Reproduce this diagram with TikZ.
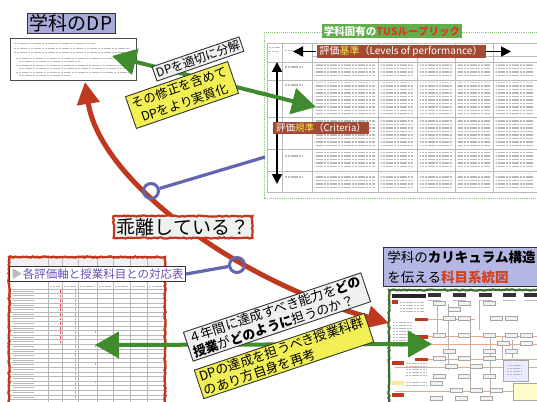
\documentclass[tikz,border=0pt]{standalone}
\usepackage{fontspec}
\setmainfont{Noto Sans CJK JP}
\usetikzlibrary{arrows.meta,decorations.pathmorphing,calc}
\definecolor{dpblue}{HTML}{A8AADA}
\definecolor{cblue}{HTML}{B4B6E4}
\definecolor{redc}{HTML}{C0391F}
\definecolor{brownc}{HTML}{A24A33}
\definecolor{titlegreen}{HTML}{62AE4F}
\definecolor{arrgreen}{HTML}{3F8B2E}
\definecolor{darkgreen}{HTML}{3E6B2F}
\definecolor{rubgreen}{HTML}{8CC87A}
\definecolor{lineblue}{HTML}{6266B0}
\definecolor{yel}{HTML}{F2EF55}
\definecolor{purp}{HTML}{6A4DB5}
\definecolor{subjred}{HTML}{D2401F}
\definecolor{tusred}{HTML}{E53420}
\definecolor{keyyel}{HTML}{F5E84A}
\definecolor{lbgray}{HTML}{F0F0F0}
\definecolor{orangel}{HTML}{F2A47E}
\begin{document}
\begin{tikzpicture}[x=1pt,y=-1pt,
  lbl/.style={draw=black!80, line width=0.9pt, inner sep=2pt},
  wlbl/.style={lbl, fill=lbgray},
  ylbl/.style={lbl, fill=yel},
  txt/.style={gray!55, line width=1.1pt, dash pattern=on 2.2pt off 0.6pt},
  gridl/.style={gray!55, line width=0.5pt},
  garrow/.style={arrgreen, line width=4pt, {Triangle[width=26pt,length=24pt]}-{Triangle[width=26pt,length=24pt]}},
  redarrow/.style={redc, line width=5pt, {Triangle[width=22pt,length=22pt]}-{Triangle[width=22pt,length=22pt]}},
  blarrow/.style={black, line width=1.8pt, -{Triangle[width=10pt,length=10pt]}},
  sketch/.style={decorate, decoration={random steps, segment length=2pt, amplitude=0.6pt}},
  bline/.style={lineblue, line width=3.2pt},
  ring/.style={circle, draw=lineblue, line width=3pt, minimum size=15pt, inner sep=0pt},
]
\useasboundingbox (0,0) rectangle (537,401);
\fill[white] (0,0) rectangle (537,401);

% ---------- DP document thumbnail ----------
\node[draw=black!70, line width=0.9pt, fill=white, minimum width=126pt, minimum height=42pt, anchor=north west, inner sep=0pt] (dpdoc) at (10,38) {};
\foreach \yy/\xa/\xe in {43/14/95, 48.5/14/130, 52/14/130, 58/16/130, 61.5/19/82, 65/16/130, 68.5/19/130, 72/16/130, 75.5/19/70}
  \draw[txt, line width=0.9pt] (\xa,\yy) -- (\xe,\yy);

% ---------- Rubric thumbnail ----------
\draw[rubgreen, line width=0.9pt, densely dotted] (264,32) rectangle (545,198);
\fill[white] (267,43) rectangle (537,192);
\foreach \xx in {267,282,312,378,417,455,493} \draw[gridl] (\xx,43) -- (\xx,192);
\foreach \yy in {43,62,80,117,149,171,192} \draw[gridl] (267,\yy) -- (537,\yy);
\draw[gridl] (312,56) -- (537,56);
\begin{scope}
\clip \foreach \xa/\xb in {312/378,378/417,417/455,455/493,493/537}{
        \foreach \ya/\yb in {62/80,80/117,117/149,149/171,171/192}{
          (\xa+2.5,\ya+2.5) rectangle (\xb-3,\yb-3) } };
\foreach \yy in {65,68.5,...,192} \draw[txt] (282,\yy) -- (537,\yy);
\end{scope}
\foreach \yy in {67,85,124,156,177} \draw[txt] (285,\yy) -- (302,\yy);
\draw[txt, line width=0.8pt] (269,47) -- (280,47) (269,51) -- (278,51);
\draw[txt, line width=0.8pt] (285,50) -- (293,50);

\node[fill=titlegreen, text=white, font=\bfseries\fontsize{10.5}{12}\selectfont, inner sep=1.5pt] (tustitle) at (392,31) {学科固有の\textcolor{tusred}{TUSルーブリック}};

\coordinate (vtop) at (277,62);
\coordinate (vbot) at (277,184);
\draw[black, line width=1.8pt, {Triangle[width=10pt,length=10pt]}-{Triangle[width=10pt,length=10pt]}] (vtop) -- (vbot);

\node[fill=brownc, text=white, font=\fontsize{10}{12}\selectfont, inner xsep=3pt, inner ysep=1.5pt] (levels) at (401,51.5) {評価\textcolor{keyyel}{基準}（Levels of performance）};
\coordinate (lvlL) at (293,51.5);
\coordinate (lvlR) at (511,51.5);
\draw[blarrow] (levels.west) -- (lvlL);
\draw[blarrow] (levels.east) -- (lvlR);

\node[fill=brownc, text=white, font=\fontsize{9.5}{12}\selectfont, inner xsep=3pt, inner ysep=1.5pt] (crit) at (321,128) {評価\textcolor{keyyel}{規準}（Criteria）};

% ---------- Correspondence table thumbnail ----------
\fill[white] (9,257) rectangle (165,405);
\fill[gray!12] (10,258) rectangle (165,266);
\foreach \xa/\xb in {50/60, 64/76, 80/95, 99/111, 115/128, 132/145, 149/162} \draw[txt, line width=0.6pt] (\xa,286) -- (\xb,286);
\foreach \yy in {289,293.6,...,402} \draw[gridl, line width=0.4pt] (10,\yy) -- (165,\yy);
\foreach \xx in {48,62,78,97,113,130,147} \draw[gridl, line width=0.4pt] (\xx,258) -- (\xx,402);
\foreach \yy in {291.3,295.9,...,400} \draw[txt, line width=1pt, dash pattern=on 1.6pt off 0.4pt] (13,\yy) -- (34,\yy);
\foreach \yy in {291.3,295.9,...,345} \draw[red!70, line width=0.5pt] (60,\yy-1.4) -- (60,\yy+1.4);
\foreach \yy in {291.3,295.9,...,400} \draw[gray!60, line width=0.5pt] (75,\yy-1.3) -- (75,\yy+1.3);
\foreach \yy in {331.5,345.3,363.7,382.1} \draw[gray!60, line width=0.5pt] (95,\yy-1.3) -- (95,\yy+1.3);
\draw[redc, line width=2.4pt, sketch] (9,257) rectangle (165,406);

% ---------- Subject graph thumbnail ----------
\fill[white] (389,290) rectangle (541,405);
\fill[black!85] (392,294) rectangle (426,298);
\foreach \xa in {428,453,479,503,524} \fill[black!80] (\xa,293) rectangle ++(13,4);
\foreach \xa in {428,453,479,503,524} \draw[gray!50, line width=0.5pt] (\xa,300) -- ++(13,0);
\foreach \yy in {302,305,308,311} \draw[txt, line width=0.8pt] (400,\yy) -- (424,\yy);
\fill[redc] (392,300) rectangle (398,304);
\foreach \yy in {322,325,...,347} \draw[txt, line width=0.8pt] (393,\yy) -- (412,\yy);
\foreach \yy in {363,366,369,372,375} \draw[txt, line width=0.8pt] (406,\yy) -- (427,\yy);
\fill[redc] (392,361) rectangle (404,365);
\fill[yellow!60!orange!40] (392,381) rectangle (404,385);
\foreach \yy in {382,385} \draw[txt, line width=0.8pt] (406,\yy) -- (427,\yy);
\fill[redc] (392,393) rectangle (404,397);
\foreach \ya/\xa/\xb in {319/428/475, 336.5/428/537, 344/430/537, 359/428/537, 367/395/537, 391/395/537}
  \draw[orangel, line width=1pt] (\xa,\ya) -- (\xb,\ya);
\foreach \yy in {317.5,335,357.5} \fill[redc] (415,\yy) rectangle ++(13,3.5);
\draw[gray!60, line width=0.5pt] (448,304) -- (448,370) (470,320) -- (470,390) (490,335) -- (490,395)
  (502,336) -- (502,360) (479,300) -- (479,330) (512,340) -- (512,358) (437,305) -- (437,334);
\foreach \xa/\ya in {433/301, 448/307, 458/301, 483/301, 443/316, 458/316, 490/316, 505/316,
   433/333, 458/333, 483/333, 505/333, 520/333, 497/341, 520/341, 443/349, 483/349, 505/349,
   433/356, 458/356, 483/356, 445/364, 470/364, 433/374, 458/374, 483/374, 430/381,
   450/388, 470/388, 490/388, 430/396, 455/396, 480/396}
  \draw[gray!70, line width=0.5pt, fill=gray!10] (\xa,\ya) rectangle ++(12,4.5);
\draw[gray!70, line width=0.5pt, fill=blue!8] (503,360) rectangle (528,381);
\foreach \yy in {365,368,371,374} \draw[txt, line width=0.7pt] (507,\yy) -- (522,\yy);
\draw[gray!70, line width=0.5pt, fill=yellow!20] (513,383) rectangle (537,400);
\draw[darkgreen, line width=2.2pt, sketch] (389,290) rectangle (541,406);

% ---------- red curved arrow ----------
\coordinate (rtop) at (85,82);
\coordinate (rbot) at (389,323);
\draw[redarrow] (rtop) .. controls (100,180) and (235,280) .. (rbot);

% ---------- green arrows ----------
\coordinate (g1a) at (112,56);
\coordinate (g1b) at (316,107);
\draw[garrow] (g1a) -- (g1b);
\draw[arrgreen, line width=1.5pt, decorate, decoration={random steps, segment length=3pt, amplitude=1.3pt}]
  ($(g1a)!22pt!(g1b)$) -- ($(g1b)!22pt!(g1a)$);
\coordinate (g2a) at (95,345);
\coordinate (g2b) at (432,344);
\draw[garrow] (g2a) -- (g2b);
\draw[arrgreen, line width=1.5pt, decorate, decoration={random steps, segment length=3pt, amplitude=1.3pt}]
  ($(g2a)!22pt!(g2b)$) -- ($(g2b)!22pt!(g2a)$);

% ---------- labels ----------
\node[lbl, fill=dpblue, font=\fontsize{19}{21}\selectfont, inner xsep=3pt, inner ysep=1pt] (dplbl) at (71,23.5) {学科のDP};

\node[wlbl, rotate=19, font=\fontsize{12}{14}\selectfont] (bunkai) at (198,59) {DPを適切に分解};
\node[ylbl, rotate=19, align=center, font=\fontsize{12.5}{16}\selectfont, inner xsep=4pt, inner ysep=3pt] (jisshitsu) at (182,95) {その修正を含めて\\DPをより実質化};

\node[fill=lbgray, font=\fontsize{19}{21}\selectfont, inner xsep=3pt, inner ysep=2pt] (kairi) at (183,227) {乖離している？};
\draw[redc, line width=2.2pt, sketch] (kairi.north west) rectangle (kairi.south east);

\node[draw=black!80, fill=white, line width=1pt, font=\fontsize{11.5}{13}\selectfont, text=purp, inner sep=2pt] (tbllbl) at (97.5,274) {\textcolor{gray!55}{▶}各評価軸と授業科目との対応表};

\node[draw=black!80, line width=1pt, fill=cblue, align=left, font=\fontsize{13.5}{20}\selectfont, anchor=north west, inner xsep=3pt, inner ysep=3pt, minimum width=156pt] (kamoku) at (383,247) {学科の\textbf{カリキュラム構造}\\を伝える\textbf{\textcolor{subjred}{科目系統図}}};

% ---------- blue links ----------
\node[ring] (c1) at (151,191) {};
\node[ring] (c2) at (237,265) {};
\coordinate (b1) at (265,157);
\draw[bline] (c1) -- (b1);
\draw[bline] (c2) -- (tbllbl.east);

% ---------- bottom rotated labels ----------
\node[wlbl, rotate=18.5, align=left, font=\fontsize{13}{15}\selectfont, inner xsep=3pt, inner ysep=1.5pt] (nenkan) at (277,317) {４年間に達成すべき能力を\textbf{どの}\\\textbf{授業}が\textbf{どのように}担うのか？};
\node[ylbl, rotate=18.5, align=left, font=\fontsize{13}{15}\selectfont, inner xsep=3pt, inner ysep=1.5pt] (saikou) at (284,356) {DPの達成を担うべき授業科群\\のあり方自身を再考};

\end{tikzpicture}
\end{document}
